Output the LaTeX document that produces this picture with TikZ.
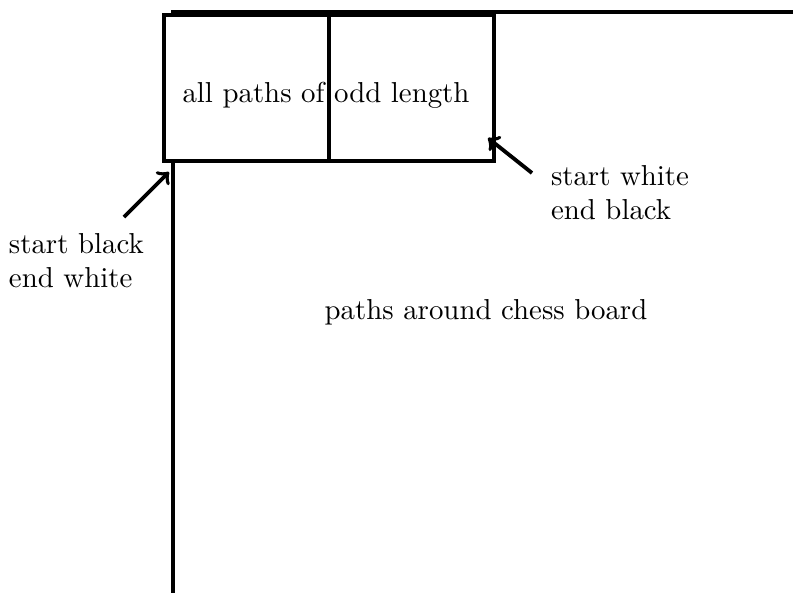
\documentclass[tikz,border=0pt]{standalone}
\begin{document}
\begin{tikzpicture}[x=0.352pt,y=-0.352pt,line width=1.35pt,
  every node/.style={font=\fontsize{10.15pt}{12.1pt}\selectfont},
  boxstyle/.style={draw,fill=white,inner sep=0pt,minimum width=116.2pt,minimum height=51.4pt},
  lbl/.style={anchor=north west,align=left,inner sep=0pt,outer sep=0pt},
  ptr/.style={->,line width=1.35pt}]
\useasboundingbox (0,0) rectangle (793,593);
\coordinate (tr) at (793,12);
\coordinate (corner) at (173,12);
\coordinate (bl) at (173,593);
\draw (tr) -- (corner) -- (bl);
\node[boxstyle] (box) at (329,88) {};
\draw (box.north) -- (box.south);
\node[anchor=base,inner sep=0pt] (title) at (326,102) {all paths of odd length};
\node[anchor=base,inner sep=0pt] (board) at (486,319) {paths around chess board};
\node[lbl] (left) at (9,233) {start black\\end white};
\node[lbl] (right) at (551,165) {start white\\end black};
\coordinate (a1s) at (124,217);
\coordinate (a1e) at (169,172);
\coordinate (a2s) at (532,173);
\coordinate (a2e) at (488,138);
\draw[ptr] (a1s) -- (a1e);
\draw[ptr] (a2s) -- (a2e);
\end{tikzpicture}
\end{document}
